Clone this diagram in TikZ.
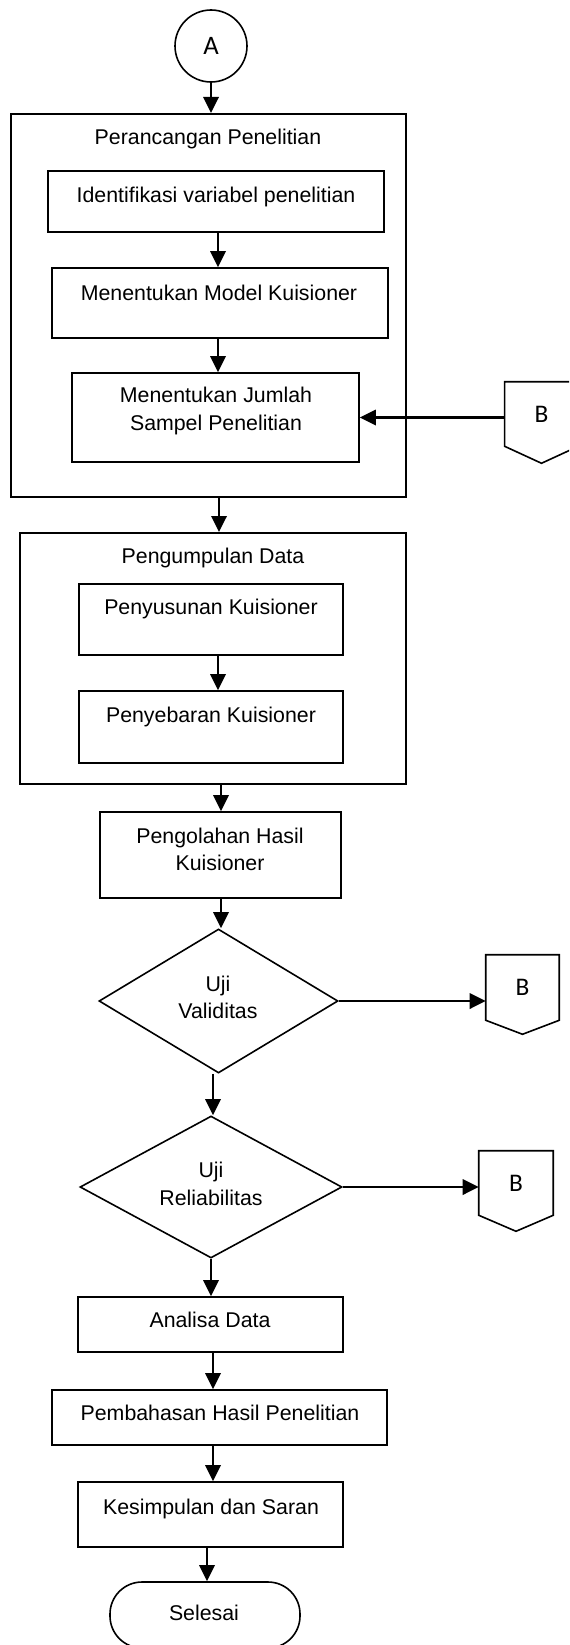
\documentclass[tikz,border=0pt]{standalone}
\usepackage{fontspec}
\setmainfont{Liberation Sans}
\newfontfamily\calib{Carlito}
\usetikzlibrary{arrows.meta,shapes.geometric,fit,calc}
\begin{document}
\begin{tikzpicture}[x=0.75pt,y=-0.75pt,
  box/.style={draw, line width=1.2pt, inner sep=0pt},
  outer/.style={draw, line width=1.5pt, inner sep=0pt},
  txt/.style={font=\fontsize{16}{20.5}\selectfont, align=center, inner sep=0pt},
  txtb/.style={txt, anchor=base},
  arr/.style={line width=1.8pt, -{Triangle[length=12pt,width=11.5pt]}},
  offpage/.style={inner sep=0pt, minimum width=55pt, minimum height=48pt, font=\calib\fontsize{19}{22}\selectfont},
  pent/.style={line width=1.2pt},
  decision/.style={diamond, draw, line width=1.2pt, inner sep=0pt, aspect=1}
]
\useasboundingbox (0,0) rectangle (569,1645);
\clip (0,0) rectangle (569,1645);

% start connector
\node[circle, draw, line width=1.2pt, minimum size=54pt, inner sep=0pt, font=\calib\fontsize{20}{24}\selectfont] (A) at (211,46) {A};

% Perancangan Penelitian
\node[outer, fit={(11,114) (406,497)}] (o1) {};
\node[txtb] (t1) at (208,144) {Perancangan Penelitian};
\node[box, fit={(48,171) (384,232)}] (b1) {};
\node[txtb] (tb1) at (216,202) {Identifikasi variabel penelitian};
\node[box, fit={(52,268) (388,338)}] (b2) {};
\node[txtb] (tb2) at (219,300) {Menentukan Model Kuisioner};
\node[box, fit={(72,373) (359,462)}] (b3) {};
\node[txt] (tb3) at (216,411) {Menentukan Jumlah\\Sampel Penelitian};

% off-page B (1)
\node[offpage] (B1) at (541.5,414) {B};
\draw[pent] (B1.north west) -- (B1.north east) -- (B1.south east) -- ($(B1.south)+(0,17)$) -- (B1.south west) -- cycle;

% Pengumpulan Data
\node[outer, fit={(20,533) (406,784)}] (o2) {};
\node[txtb] (t2) at (213,563) {Pengumpulan Data};
\node[box, fit={(79,584) (343,655)}] (p1) {};
\node[txtb] (tp1) at (211,614) {Penyusunan Kuisioner};
\node[box, fit={(79,691) (343,763)}] (p2) {};
\node[txtb] (tp2) at (211,722) {Penyebaran Kuisioner};

% Pengolahan
\node[box, fit={(100,812) (341,898)}] (pg) {};
\node[txt] (tpg) at (220,849.5) {Pengolahan Hasil\\Kuisioner};

% decisions
\node[decision, minimum width=179.25pt, minimum height=108pt] (d1) at (218.5,1001) {};
\node[txt] (td1) at (218,997.5) {Uji\\Validitas};
\node[offpage, minimum width=54.75pt, minimum height=48.75pt] (B2) at (522.5,987.5) {B};
\draw[pent] (B2.north west) -- (B2.north east) -- (B2.south east) -- ($(B2.south)+(0,14)$) -- (B2.south west) -- cycle;

\node[decision, minimum width=196.5pt, minimum height=106.5pt] (d2) at (211,1187) {};
\node[txt] (td2) at (211,1184) {Uji\\Reliabilitas};
\node[offpage, minimum width=55.5pt, minimum height=48pt] (B3) at (516,1183) {B};
\draw[pent] (B3.north west) -- (B3.north east) -- (B3.south east) -- ($(B3.south)+(0,16)$) -- (B3.south west) -- cycle;

% final steps
\node[box, fit={(78,1297) (343,1352)}] (an) {};
\node[txtb] (tan) at (210,1327) {Analisa Data};
\node[box, fit={(52,1390) (387,1445)}] (pb) {};
\node[txtb] (tpb) at (220,1420) {Pembahasan Hasil Penelitian};
\node[box, fit={(78,1482) (343,1547)}] (ks) {};
\node[txtb] (tks) at (211,1514) {Kesimpulan dan Saran};
\node[draw, line width=1.2pt, inner sep=0pt, rounded corners=24pt, fit={(110,1582) (300,1648)}] (sel) {};
\node[txtb] (tsel) at (204,1620) {Selesai};

% axis coordinates for the vertical connectors
\coordinate (xb) at (218,0);
\coordinate (xc) at (219,0);
\coordinate (xd) at (221,0);
\coordinate (xe) at (213,0);
\coordinate (xg) at (207,0);

\draw[arr] (A.south) -- (A.south |- o1.north);
\draw[arr] (xb |- b1.south) -- (xb |- b2.north);
\draw[arr] (xb |- b2.south) -- (xb |- b3.north);
\draw[arr] (B1.west |- b3.east) -- (b3.east);
\draw[arr] (xc |- o1.south) -- (xc |- o2.north);
\draw[arr] (xb |- p1.south) -- (xb |- p2.north);
\draw[arr] (xd |- o2.south) -- (xd |- pg.north);
\draw[arr] (xd |- pg.south) -- (xd |- d1.north);
\draw[arr] (d1.east) -- (d1.east -| B2.west);
\draw[arr] (xe |- d1.south) -- (xe |- d2.north);
\draw[arr] (d2.east) -- (d2.east -| B3.west);
\draw[arr] (d2.south) -- (d2.south |- an.north);
\draw[arr] (xe |- an.south) -- (xe |- pb.north);
\draw[arr] (xe |- pb.south) -- (xe |- ks.north);
\draw[arr] (xg |- ks.south) -- (xg |- sel.north);
\end{tikzpicture}
\end{document}
